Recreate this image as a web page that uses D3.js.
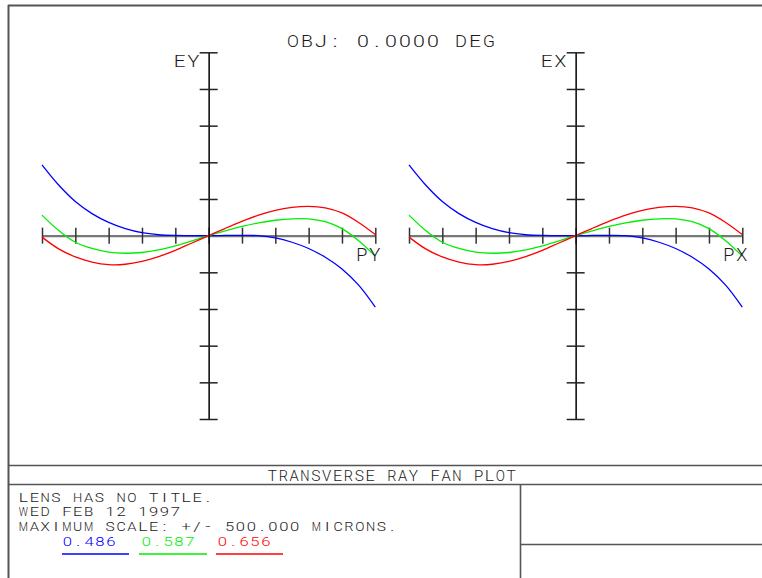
<!DOCTYPE html>
<html>
<head>
<meta charset="utf-8">
<script src="https://cdn.jsdelivr.net/npm/d3@7"></script>
<style>
  html, body { margin: 0; padding: 0; background: #fff; }
  svg { display: block; }
  text { font-family: Roboto, "DejaVu Sans", sans-serif; font-weight: 300; fill: #1a1a1a; }
</style>
</head>
<body>
<svg id="chart" width="762" height="578"></svg>
<script>
// Relative pupil coordinate, -1 .. 1 in steps of 0.1
const pupil = d3.range(-10, 11).map(i => i / 10);

// Wavelengths (microns) and their plot colours
const wavelengths = ["0.486", "0.587", "0.656"];
const colors = ["#0000ff", "#00ee00", "#ff0000"];

// Tangential fan (EY vs PY), ray error in microns
const eyBlue  = [193, 138, 93, 60, 36, 19, 8, 2.5, 0.5, 0, 0, 0.5, 1, 0, -6, -18, -35, -59, -91, -135, -195];
const eyGreen = [56, 14, -18, -35, -45, -48, -46, -39, -28, -14, 0, 13, 25, 35, 42, 46, 46, 38, 19, -14, -56];
const eyRed   = [-4, -36, -58, -72, -79, -78, -70, -57, -40, -20, 0, 20, 39, 56, 69, 77, 80, 76, 62, 36, 3];

// Sagittal fan (EX vs PX), ray error in microns
const exBlue  = [193, 138, 93, 60, 36, 19, 8, 2.5, 0.5, 0, 0, 0.5, 1, 0, -6, -18, -35, -59, -91, -135, -195];
const exGreen = [56, 14, -18, -35, -45, -48, -46, -39, -28, -14, 0, 13, 25, 35, 42, 46, 46, 38, 19, -14, -56];
const exRed   = [-4, -36, -58, -72, -79, -78, -70, -57, -40, -20, 0, 20, 39, 56, 69, 77, 80, 76, 62, 36, 3];

const maxScale = 500;                       // +/- microns
const errTicks = d3.range(-500, 501, 100);  // vertical axis ticks
const pupilTicks = d3.range(-10, 11, 2).map(i => i / 10);

const titleText = "OBJ: 0.0000 DEG";
const captionText = "TRANSVERSE RAY FAN PLOT";
const infoLines = ["LENS HAS NO TITLE.", "WED FEB 12 1997", "MAXIMUM SCALE: +/- 500.000 MICRONS."];

const svg = d3.select("#chart");

// Plotter-style text: every character centred in a fixed-pitch cell.
// Glyphs are widened horizontally, but never beyond 85% of the cell.
function label(s, x, y, size, pitch, color) {
  const g = svg.append("g").attr("transform", `translate(${x},${y})`);
  const chars = g.selectAll("text").data(Array.from(s)).join("text")
    .attr("font-size", size)
    .attr("text-anchor", "middle")
    .text(d => d);
  if (color) chars.style("fill", color);
  chars.each(function (d, i) {
    const w = this.getComputedTextLength() || 1;
    const sx = Math.min(1.45, 0.85 * pitch / w);
    d3.select(this).attr("transform", `translate(${(i + 0.5) * pitch},0) scale(${sx.toFixed(3)},1)`);
  });
  return g;
}

// Frame and title block
const frame = svg.append("g").attr("fill", "none").attr("stroke", "#555");
frame.append("line").attr("x1", 8).attr("x2", 762).attr("y1", 5.5).attr("y2", 5.5).attr("stroke-width", 2);
frame.append("line").attr("x1", 8.5).attr("x2", 8.5).attr("y1", 5).attr("y2", 578).attr("stroke-width", 2);
frame.append("line").attr("x1", 8).attr("x2", 762).attr("y1", 465.5).attr("y2", 465.5).attr("stroke-width", 1.6);
frame.append("line").attr("x1", 8).attr("x2", 762).attr("y1", 484.5).attr("y2", 484.5).attr("stroke-width", 1.6);
frame.append("line").attr("x1", 520.5).attr("x2", 520.5).attr("y1", 485).attr("y2", 578).attr("stroke-width", 1.6);
frame.append("line").attr("x1", 521).attr("x2", 762).attr("y1", 544.5).attr("y2", 544.5).attr("stroke-width", 1.6);

label(titleText, 286, 46.5, 16.9, 14);
label(captionText, 267, 481, 14, 10.85);
infoLines.forEach((s, i) => label(s, 18, 501.7 + i * 14.7, 12.7, 10.85));

// Legend
const legendX = [62, 141, 217];
const legendLine = [[62, 129], [139, 207], [216, 283]];
wavelengths.forEach((w, i) => {
  label(w, legendX[i], 545.7, 12.7, 10.85, colors[i]);
  svg.append("line")
    .attr("x1", legendLine[i][0]).attr("x2", legendLine[i][1])
    .attr("y1", 554).attr("y2", 554)
    .attr("stroke", colors[i]).attr("stroke-width", 1.4);
});

// One ray fan panel
function fan(xRange, yLab, xLab, series) {
  const x = d3.scaleLinear().domain([-1, 1]).range(xRange);
  const y = d3.scaleLinear().domain([-maxScale, maxScale]).range([419, 52.3]);
  const x0 = x(0), y0 = y(0);

  // horizontal (pupil) axis
  const ax = svg.append("g").attr("transform", `translate(0,${y0})`)
    .call(d3.axisBottom(x).tickValues(pupilTicks).tickSize(0).tickSizeOuter(0).tickFormat(""));
  ax.select(".domain").attr("stroke", "#777").attr("stroke-width", 2.2);
  ax.selectAll(".tick line").attr("y1", -8).attr("y2", 8).attr("stroke", "#333").attr("stroke-width", 1.5);

  // curves
  const line = d3.line().x((d, i) => x(pupil[i])).y(d => y(d)).curve(d3.curveCatmullRom);
  series.forEach((vals, i) => {
    svg.append("path").datum(vals)
      .attr("d", line)
      .attr("fill", "none")
      .attr("stroke", colors[i])
      .attr("stroke-width", 1.3);
  });

  // vertical (error) axis
  const ay = svg.append("g").attr("transform", `translate(${x0},0)`)
    .call(d3.axisLeft(y).tickValues(errTicks.filter(v => v !== 0)).tickSize(0).tickSizeOuter(0).tickFormat(""));
  ay.select(".domain").attr("stroke", "#111").attr("stroke-width", 1.6);
  ay.selectAll(".tick line").attr("x1", -9).attr("x2", 9).attr("stroke", "#222").attr("stroke-width", 1.5);

  label(yLab, x0 - 36, 67, 16.9, 13.8);
  label(xLab, x(1) - 20, 260.5, 18.3, 13);
}

fan([42, 375.3], "EY", "PY", [eyBlue, eyGreen, eyRed]);
fan([409, 742.3], "EX", "PX", [exBlue, exGreen, exRed]);
</script>
</body>
</html>
